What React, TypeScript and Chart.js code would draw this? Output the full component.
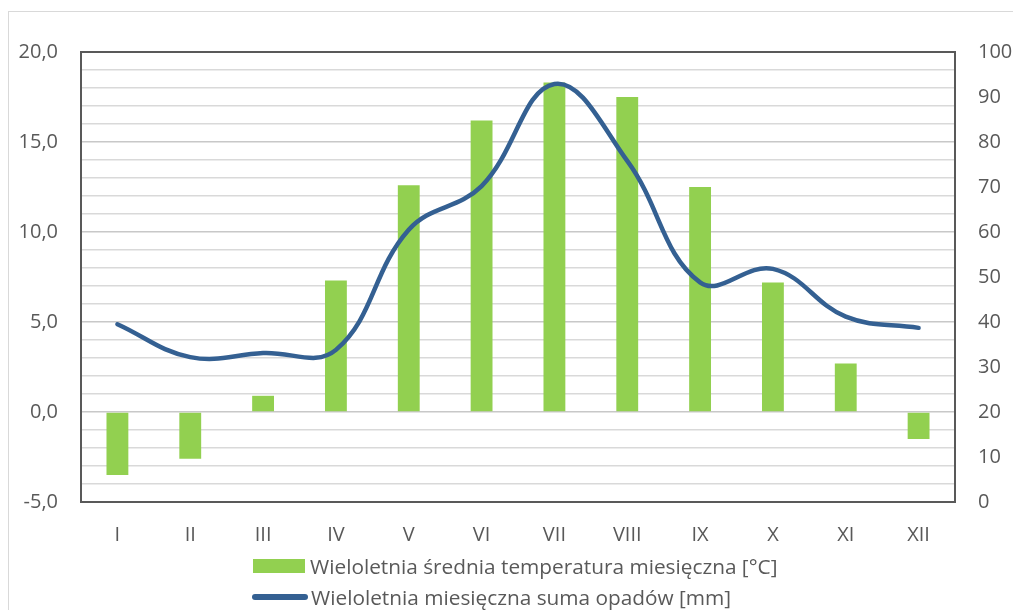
import React, { useEffect, useRef } from "react";
import { Chart, registerables } from "chart.js";

Chart.register(...registerables);

const months = ["I", "II", "III", "IV", "V", "VI", "VII", "VIII", "IX", "X", "XI", "XII"];
const temperature = [-3.5, -2.6, 0.9, 7.3, 12.6, 16.2, 18.3, 17.5, 12.5, 7.2, 2.7, -1.5];
const precipitation = [39.5, 32.2, 33.1, 33.8, 60.5, 70.2, 92.9, 75.8, 48.8, 51.8, 41.2, 38.7];
const tempLabel = "Wieloletnia średnia temperatura miesięczna [°C]";
const precLabel = "Wieloletnia miesięczna suma opadów [mm]";

const FONT = "'Open Sans', sans-serif";
const GREEN = "#92D050";
const BLUE = "#346092";
const TEXT = "#595959";

const framePlugin = {
  id: "frame",
  afterDraw(chart: any) {
    const { ctx, chartArea } = chart;
    ctx.save();
    ctx.strokeStyle = "#595959";
    ctx.lineWidth = 2;
    ctx.strokeRect(chartArea.left, chartArea.top, chartArea.right - chartArea.left, chartArea.bottom - chartArea.top);
    ctx.restore();
  },
};

export default function App() {
  const ref = useRef<HTMLCanvasElement | null>(null);

  useEffect(() => {
    if (!ref.current) return;
    const chart = new Chart(ref.current, {
      type: "bar",
      data: {
        labels: months,
        datasets: [
          {
            type: "line",
            label: precLabel,
            data: precipitation,
            yAxisID: "y1",
            borderColor: BLUE,
            backgroundColor: BLUE,
            borderWidth: 4.5,
            pointRadius: 0,
            tension: 0.4,
            borderCapStyle: "round",
            order: 0,
          } as any,
          {
            type: "bar",
            label: tempLabel,
            data: temperature,
            yAxisID: "y",
            backgroundColor: GREEN,
            barPercentage: 0.3,
            categoryPercentage: 1,
            order: 1,
          },
        ],
      },
      options: {
        animation: false,
        responsive: false,
        maintainAspectRatio: false,
        layout: { padding: { top: 40, bottom: 58, left: 0, right: 0 } },
        plugins: { legend: { display: false }, tooltip: { enabled: false } },
        scales: {
          x: {
            grid: { display: false, drawTicks: false },
            border: { display: false },
            ticks: { color: TEXT, font: { family: FONT, size: 20 }, padding: 21 },
            afterFit: (s: any) => { s.height = 50; },
          },
          y: {
            position: "left",
            min: -5,
            max: 20,
            border: { display: false },
            grid: {
              drawTicks: false,
              color: (c: any) => (c.tick && c.tick.value % 5 === 0 ? "#c8c8c8" : "#d9d9d9"),
              lineWidth: 1.5,
            },
            ticks: {
              stepSize: 1,
              autoSkip: false,
              color: TEXT,
              font: { family: FONT, size: 20 },
              padding: 23,
              callback: (v: any) => (Number(v) % 5 === 0 ? Number(v).toFixed(1).replace(".", ",") : ""),
            },
            afterFit: (s: any) => { s.width = 72; },
          },
          y1: {
            position: "right",
            min: 0,
            max: 100,
            border: { display: false },
            grid: { display: false, drawTicks: false },
            ticks: { stepSize: 10, color: TEXT, font: { family: FONT, size: 20 }, padding: 23 },
            afterFit: (s: any) => { s.width = 66; },
          },
        },
      },
      plugins: [framePlugin],
    });
    return () => chart.destroy();
  }, []);

  return (
    <div
      style={{
        position: "relative",
        width: 1012,
        height: 620,
        marginTop: 3,
        border: "1px solid #d9d9d9",
        borderRight: "none",
        background: "#fff",
      }}
    >
      <canvas ref={ref} width={1012} height={598} style={{ display: "block" }} />
      <div style={{ position: "absolute", left: 243, top: 546, fontFamily: FONT, fontSize: 20.8, color: TEXT, lineHeight: "16px" }}>
        <div style={{ display: "flex", alignItems: "center", height: 16 }}>
          <span style={{ display: "inline-block", width: 52, height: 14, background: GREEN, marginRight: 5, marginLeft: 1 }} />
          <span>{tempLabel}</span>
        </div>
        <div style={{ display: "flex", alignItems: "center", height: 16, marginTop: 15 }}>
          <span style={{ display: "inline-block", width: 56, height: 6, borderRadius: 3, background: BLUE, marginRight: 3 }} />
          <span>{precLabel}</span>
        </div>
      </div>
    </div>
  );
}
